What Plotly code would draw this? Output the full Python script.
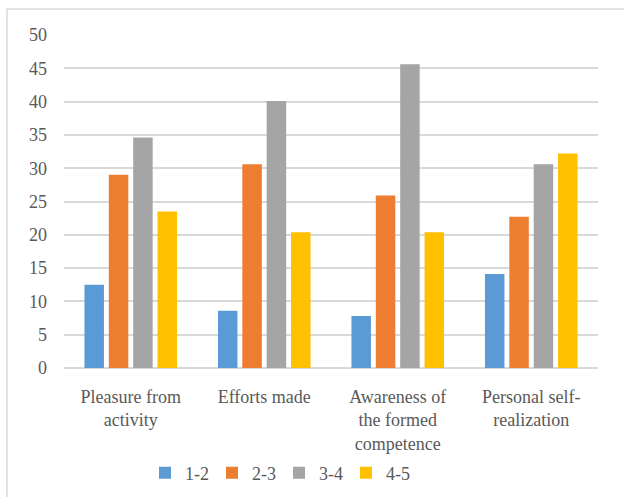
import plotly.graph_objects as go

categories = ["Pleasure from<br>activity", "Efforts made", "Awareness of<br>the formed<br>competence", "Personal self-<br>realization"]
series_names = ["1-2", "2-3", "3-4", "4-5"]
values_12 = [12.5, 8.6, 7.8, 14.1]
values_23 = [29.0, 30.6, 25.9, 22.7]
values_34 = [34.6, 40.1, 45.6, 30.6]
values_45 = [23.5, 20.4, 20.4, 32.2]
colors = ["#5B9BD5", "#ED7D31", "#A5A5A5", "#FFC000"]
y_ticks = [0, 5, 10, 15, 20, 25, 30, 35, 40, 45, 50]

W, H = 624, 497
L, R, T, B = 64, 26, 35, 129
pw, ph = W - L - R, H - T - B

fig = go.Figure()
for name, vals, col in zip(series_names, [values_12, values_23, values_34, values_45], colors):
    fig.add_trace(go.Bar(x=categories, y=vals, name=name, marker=dict(color=col, line=dict(width=0))))

font = dict(family="Liberation Serif, DejaVu Serif, serif", size=18, color="#595959")
fig.update_layout(
    width=W, height=H,
    margin=dict(l=L, r=R, t=T, b=B, autoexpand=False),
    paper_bgcolor="white", plot_bgcolor="white",
    font=font,
    barmode="group", bargap=0.27, bargroupgap=0.2,
    showlegend=True,
    legend=dict(orientation="h", x=(145 - L) / pw, xanchor="left", y=(T + ph - 473) / ph, yanchor="middle",
                font=font, itemwidth=30, entrywidth=22, entrywidthmode="pixels", traceorder="normal"),
    xaxis=dict(showgrid=False, showline=False, ticks="", tickfont=font, fixedrange=True, ticklabelstandoff=16),
    yaxis=dict(range=[0, 50], tickvals=y_ticks, showgrid=True, gridcolor="#D9D9D9", gridwidth=1.5,
               zeroline=True, zerolinecolor="#D9D9D9", zerolinewidth=1.5, showline=False,
               ticks="", ticklabelstandoff=16, tickfont=font, fixedrange=True),
    shapes=[dict(type="rect", xref="paper", yref="paper",
                 x0=(7 - L) / pw, x1=(W + 10 - L) / pw,
                 y0=(T + ph - (H + 10)) / ph, y1=(T + ph - 9) / ph,
                 line=dict(color="#D9D9D9", width=1.5), fillcolor="rgba(0,0,0,0)", layer="below")],
)
fig.write_html("out.html", config={"displayModeBar": False}, post_script="document.body.style.margin='0';")
